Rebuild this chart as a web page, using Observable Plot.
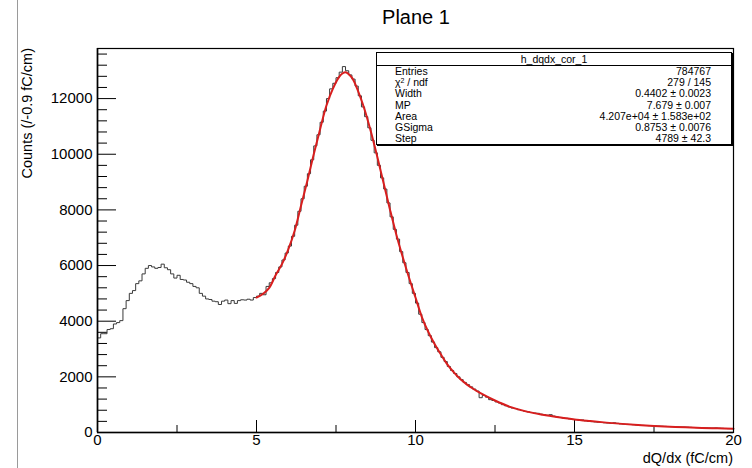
<!DOCTYPE html>
<html>
<head>
<meta charset="utf-8">
<script src="https://cdn.jsdelivr.net/npm/d3@7"></script>
<script src="https://cdn.jsdelivr.net/npm/@observablehq/plot@0.6"></script>
<style>
  html, body { margin: 0; padding: 0; background: #fff; }
  #wrap { position: relative; width: 752px; height: 468px; font-family: "Liberation Sans", Arial, Helvetica, sans-serif; color: #000; }
  #wrap svg { position: absolute; left: 0; top: 0; }
  .edge { position: absolute; left: 17px; top: 0; width: 0; height: 468px; border-left: 1px solid #9a9a9a; }
  .title { position: absolute; top: 6px; left: 316px; width: 200px; text-align: center; font-size: 20px; }
  .ylab { position: absolute; left: 28px; top: 48px; font-size: 14.5px; white-space: nowrap;
          transform-origin: 0 0; transform: translate(-9px, 0) rotate(-90deg) translate(-100%, 0); }
  .xlab { position: absolute; right: 19px; top: 450px; font-size: 14.5px; white-space: nowrap; }
  .stats { position: absolute; left: 376px; top: 52px; width: 354px; height: 91px; border: 1px solid #000;
           box-shadow: 1px 1px 0 #000; background: #fff; font-size: 10.5px; overflow: hidden; }
  .stats .hd { text-align: center; border-bottom: 1px solid #000; height: 12px; line-height: 12px; }
  .stats .row { display: flex; justify-content: space-between; padding: 0 20px 0 18px; height: 11.2px; line-height: 11.2px; }
  .stats sup { font-size: 7px; line-height: 0; vertical-align: 3px; }
</style>
</head>
<body>
<div id="wrap">
  <div class="edge"></div>
</div>
<script>
// ---- data ----
const binStart = 0;
const binWidth = 0.1;
const counts = [
  3400, 3550, 3550, 3700, 3730, 3900, 3950, 4020, 4450, 4740,
  5000, 5100, 5350, 5450, 5700, 5900, 6000, 5950, 5900, 5930,
  6050, 5920, 5850, 5700, 5550, 5650, 5500, 5480, 5400, 5350,
  5250, 5200, 5000, 4900, 4800, 4780, 4720, 4700, 4600, 4720,
  4760, 4630, 4740, 4640, 4740, 4770, 4760, 4790, 4760, 4850,
  4900, 5000, 4950, 5250, 5380, 5530, 5750, 5950, 6200, 6450,
  6700, 7050, 7450, 7950, 8400, 8850, 9300, 9800, 10300, 10700,
  11150, 11550, 12000, 12350, 12550, 12750, 12950, 13150, 13000, 12850,
  12700, 12450, 12100, 11700, 11350, 10950, 10500, 10050, 9600, 9150,
  8750, 8250, 7750, 7300, 6950, 6500, 6100, 5750, 5350, 5000,
  4650, 4250, 3950, 3700, 3480, 3250, 3050, 2900, 2700, 2550,
  2370, 2230, 2120, 2000, 1900, 1800, 1720, 1640, 1560, 1490,
  1250, 1330, 1270, 1180, 1150, 1100, 1060, 1000, 960, 920,
  880, 860, 820, 790, 760, 740, 720, 700, 690, 660,
  640, 620, 640, 590, 560, 540, 520, 510, 490, 470,
  460, 440, 450, 420, 400, 390, 380, 370, 360, 350,
  340, 330, 350, 330, 310, 300, 295, 290, 280, 270,
  260, 255, 250, 245, 240, 235, 230, 225, 220, 215,
  210, 205, 200, 195, 195, 190, 185, 180, 175, 175,
  170, 165, 160, 160, 165, 155, 150, 145, 140, 140
];
const fitX = [5.0, 5.2, 5.4, 5.6, 5.8, 6.0, 6.2, 6.4, 6.6, 6.8, 7.0, 7.2, 7.4, 7.6, 7.7, 7.8, 8.0, 8.2, 8.4, 8.6, 8.8,
  9.0, 9.2, 9.4, 9.6, 9.8, 10.0, 10.2, 10.4, 10.6, 10.8, 11.0, 11.2, 11.4, 11.6, 11.8, 12.0, 12.5, 13.0, 13.5, 14.0,
  14.5, 15.0, 15.5, 16.0, 16.5, 17.0, 17.5, 18.0, 18.5, 19.0, 19.5, 20.0];
const fitY = [4850, 4980, 5200, 5650, 6050, 6580, 7250, 8150, 9050, 10000, 10900, 11750, 12350, 12780, 12900, 12950, 12750, 12250, 11600, 10800, 9900,
  8950, 8000, 7100, 6300, 5550, 4850, 4150, 3620, 3180, 2800, 2450, 2170, 1930, 1740, 1580, 1440, 1150, 910, 750, 640,
  550, 470, 410, 355, 310, 270, 235, 210, 185, 165, 150, 135];
const xMajor = [0, 5, 10, 15, 20];
const xMinor = [2.5, 7.5, 12.5, 17.5];
const yMajor = [0, 2000, 4000, 6000, 8000, 10000, 12000];
const yMinor = d3.range(0, 13801, 400).filter(v => v % 2000 !== 0);
const statLabels = ["Entries", "χ<sup>2</sup> / ndf", "Width", "MP", "Area", "GSigma", "Step"];
const statValues = ["784767", "279 / 145", "0.4402 ± 0.0023", "7.679 ± 0.007", "4.207e+04 ± 1.583e+02", "0.8753 ± 0.0076", "4789 ± 42.3"];

// ---- build ----
const W = 752, H = 468;
const mL = 97, mR = 19, mT = 48, mB = 36;
const frameW = W - mL - mR, frameH = H - mT - mB;

const hist = counts.map((c, i) => ({x: binStart + i * binWidth, y: c}));
hist.push({x: binStart + counts.length * binWidth, y: counts[counts.length - 1]});
const fit = fitX.map((x, i) => ({x, y: fitY[i]}));

const chart = Plot.plot({
  width: W, height: H,
  marginLeft: mL, marginRight: mR, marginTop: mT, marginBottom: mB,
  style: {fontFamily: "'Liberation Sans', Arial, Helvetica, sans-serif", background: "transparent", color: "#000"},
  x: {domain: [0, 20]},
  y: {domain: [0, 13800]},
  marks: [
    Plot.axisX({ticks: xMajor, tickSize: 0, tickPadding: 2, fontSize: 15, label: null, tickFormat: d => String(d)}),
    Plot.axisY({ticks: yMajor, tickSize: 0, tickPadding: 5, fontSize: 15, label: null, tickFormat: d => String(d)}),
    Plot.tickX(xMajor, {stroke: "#000", strokeWidth: 1, insetTop: frameH - 12}),
    Plot.tickX(xMinor, {stroke: "#000", strokeWidth: 1, insetTop: frameH - 7}),
    Plot.tickY(yMajor, {stroke: "#000", strokeWidth: 1, insetRight: frameW - 19}),
    Plot.tickY(yMinor, {stroke: "#000", strokeWidth: 1, insetRight: frameW - 10}),
    Plot.line(hist, {x: "x", y: "y", curve: "step-after", stroke: "#3a3a3a", strokeWidth: 1}),
    Plot.line(fit, {x: "x", y: "y", curve: "catmull-rom", stroke: "#d81e1e", strokeWidth: 2}),
    Plot.frame({stroke: "#000", strokeWidth: 1.2}),
    Plot.ruleY([0], {stroke: "#000", strokeWidth: 1.6}),
    Plot.ruleX([0], {stroke: "#000", strokeWidth: 1.6})
  ]
});

const wrap = document.getElementById("wrap");
wrap.appendChild(chart);

const t = document.createElement("div"); t.className = "title"; t.textContent = "Plane 1"; wrap.appendChild(t);
const yl = document.createElement("div"); yl.className = "ylab"; yl.textContent = "Counts (/-0.9 fC/cm)"; wrap.appendChild(yl);
const xl = document.createElement("div"); xl.className = "xlab"; xl.textContent = "dQ/dx (fC/cm)"; wrap.appendChild(xl);

const st = document.createElement("div"); st.className = "stats";
let html = "<div class='hd'>h_dqdx_cor_1</div>";
statLabels.forEach((l, i) => { html += `<div class='row'><span>${l}</span><span>${statValues[i]}</span></div>`; });
st.innerHTML = html;
wrap.appendChild(st);
</script>
</body>
</html>
